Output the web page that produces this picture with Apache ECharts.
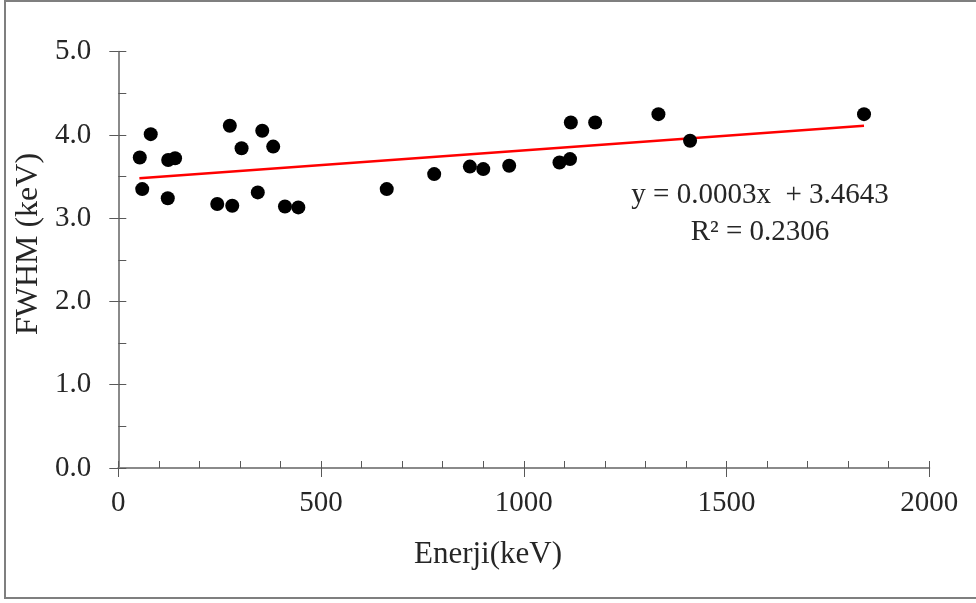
<!DOCTYPE html>
<html>
<head>
<meta charset="utf-8">
<script src="https://cdn.jsdelivr.net/npm/echarts@6/dist/echarts.min.js"></script>
<style>
html,body{margin:0;padding:0;background:#fff;}
#chart{width:976px;height:603px;}
</style>
</head>
<body>
<div id="chart"></div>
<script>
// Energy (keV) values
var energy = [53, 59, 80, 122, 123, 140, 244, 275, 281, 304, 344, 355, 382, 411, 444,
              662, 779, 867, 900, 964, 1088, 1114, 1116, 1176, 1332, 1410, 1839];
// FWHM (keV) values
var fwhm   = [3.73, 3.35, 4.01, 3.24, 3.70, 3.72, 3.17, 4.11, 3.15, 3.84, 3.31, 4.05, 3.86, 3.14, 3.13,
              3.35, 3.53, 3.62, 3.59, 3.63, 3.67, 3.71, 4.15, 4.15, 4.25, 3.93, 4.25];
// Trend line end points
var trendX = [52, 1839];
var trendY = [3.48, 4.11];
var xTicks = [0, 500, 1000, 1500, 2000];
var yTicks = [0.0, 1.0, 2.0, 3.0, 4.0, 5.0];
var equationText = 'y = 0.0003x  + 3.4643';
var r2Text = 'R\u00B2 = 0.2306';
var xTitle = 'Enerji(keV)';
var yTitle = 'FWHM (keV)';

var points = energy.map(function (e, i) { return [e, fwhm[i]]; });
var trend = trendX.map(function (x, i) { return [x, trendY[i]]; });

var FONT = '"Liberation Serif", "DejaVu Serif", serif';
var TXT = '#262626';
var AX = '#8a8a8a';
var TK = '#595959';

var chart = echarts.init(document.getElementById('chart'), null, {renderer: 'canvas'});
chart.setOption({
  backgroundColor: '#fff',
  animation: false,
  grid: {left: 118.3, right: 46.7, top: 51.7, bottom: 135, containLabel: false, outerBoundsMode: 'none'},
  xAxis: [{
    type: 'value', min: xTicks[0], max: xTicks[xTicks.length - 1], interval: 500,
    axisLine: {show: true, lineStyle: {color: AX, width: 2}},
    axisTick: {show: true, inside: true, length: 7, lineStyle: {color: TK, width: 1}},
    minorTick: {show: true, splitNumber: 5, length: 7, lineStyle: {color: TK, width: 1}},
    splitLine: {show: false},
    axisLabel: {show: true, margin: 21, color: TXT, fontFamily: FONT, fontSize: 29,
      formatter: function (v) { return String(v); }}
  }, {
    type: 'value', min: xTicks[0], max: xTicks[xTicks.length - 1], interval: 500,
    position: 'bottom',
    axisLine: {show: false},
    axisTick: {show: true, inside: false, length: 9, lineStyle: {color: TK, width: 1}},
    axisLabel: {show: false}, splitLine: {show: false}
  }],
  yAxis: [{
    type: 'value', min: yTicks[0], max: yTicks[yTicks.length - 1], interval: 1,
    axisLine: {show: true, lineStyle: {color: AX, width: 2}},
    axisTick: {show: true, inside: true, length: 8, lineStyle: {color: TK, width: 1}},
    minorTick: {show: true, splitNumber: 2, length: 8, lineStyle: {color: TK, width: 1}},
    splitLine: {show: false},
    axisLabel: {show: true, margin: 27, color: TXT, fontFamily: FONT, fontSize: 29,
      formatter: function (v) { return v.toFixed(1); }}
  }, {
    type: 'value', min: yTicks[0], max: yTicks[yTicks.length - 1], interval: 1,
    position: 'left',
    axisLine: {show: false},
    axisTick: {show: true, inside: false, length: 9, lineStyle: {color: TK, width: 1}},
    axisLabel: {show: false}, splitLine: {show: false}
  }],
  series: [{
    type: 'line', data: trend, xAxisIndex: 0, yAxisIndex: 0,
    showSymbol: false, symbol: 'none',
    lineStyle: {color: '#ff0000', width: 2.5}, z: 2
  }, {
    type: 'scatter', data: points, xAxisIndex: 0, yAxisIndex: 0,
    symbol: 'circle', symbolSize: 14,
    itemStyle: {color: '#000000', opacity: 1}, z: 3
  }],
  graphic: [{
    type: 'rect', shape: {x: 5, y: 1, width: 990, height: 597},
    style: {fill: 'none', stroke: '#7f7f7f', lineWidth: 2}, silent: true
  }, {
    type: 'text', x: 760, y: 195,
    style: {text: equationText, fill: TXT, font: '29px ' + FONT, align: 'center', verticalAlign: 'middle'}
  }, {
    type: 'text', x: 760, y: 232,
    style: {text: r2Text, fill: TXT, font: '29px ' + FONT, align: 'center', verticalAlign: 'middle'}
  }, {
    type: 'text', x: 488, y: 555,
    style: {text: xTitle, fill: TXT, font: '31px ' + FONT, align: 'center', verticalAlign: 'middle'}
  }, {
    type: 'text', x: 29, y: 244, rotation: Math.PI / 2,
    style: {text: yTitle, fill: TXT, font: '32px ' + FONT, align: 'center', verticalAlign: 'middle'}
  }]
});
</script>
</body>
</html>
